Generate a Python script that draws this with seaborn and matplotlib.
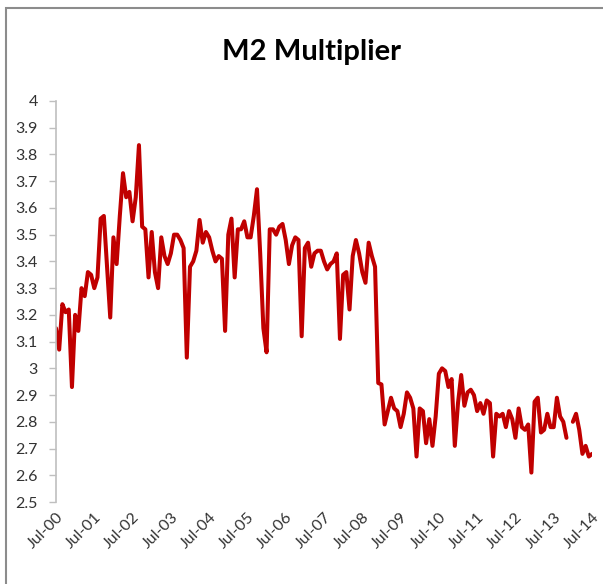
import numpy as np
import pandas as pd
import matplotlib
matplotlib.use("Agg")
import matplotlib.pyplot as plt
import seaborn as sns
from matplotlib.patches import Rectangle

# ---- data (monthly, Jul-2000 .. Jul-2014) ----
m2_multiplier = [
    3.15, 3.07, 3.24, 3.21, 3.22, 2.93, 3.20, 3.14, 3.30, 3.27, 3.36, 3.35,
    3.30, 3.34, 3.56, 3.57, 3.38, 3.19, 3.49, 3.39, 3.57, 3.73, 3.64, 3.66,
    3.55, 3.64, 3.835, 3.53, 3.52, 3.34, 3.51, 3.36, 3.30, 3.49, 3.42, 3.39,
    3.43, 3.50, 3.50, 3.48, 3.45, 3.04, 3.38, 3.40, 3.44, 3.555, 3.47, 3.51,
    3.49, 3.44, 3.40, 3.42, 3.41, 3.14, 3.50, 3.56, 3.34, 3.52, 3.52, 3.55,
    3.49, 3.49, 3.57, 3.67, 3.43, 3.15, 3.06, 3.52, 3.52, 3.50, 3.53, 3.54,
    3.48, 3.39, 3.46, 3.49, 3.48, 3.12, 3.45, 3.47, 3.38, 3.43, 3.44, 3.44,
    3.40, 3.37, 3.39, 3.40, 3.43, 3.11, 3.35, 3.36, 3.22, 3.42, 3.48, 3.43,
    3.36, 3.32, 3.47, 3.42, 3.38, 2.945, 2.94, 2.79, 2.84, 2.89, 2.85, 2.84,
    2.78, 2.83, 2.91, 2.89, 2.85, 2.67, 2.85, 2.84, 2.72, 2.81, 2.71, 2.82,
    2.98, 3.00, 2.99, 2.93, 2.96, 2.71, 2.87, 2.975, 2.86, 2.91, 2.92, 2.90,
    2.84, 2.87, 2.83, 2.88, 2.87, 2.67, 2.83, 2.82, 2.83, 2.78, 2.84, 2.81,
    2.74, 2.85, 2.78, 2.77, 2.79, 2.61, 2.875, 2.89, 2.76, 2.77, 2.83, 2.78,
    2.78, 2.89, 2.82, 2.80, 2.74, np.nan, 2.80, 2.83, 2.77, 2.68, 2.71, 2.67,
    2.68,
]
x_tick_labels = ["Jul-00", "Jul-01", "Jul-02", "Jul-03", "Jul-04", "Jul-05",
                 "Jul-06", "Jul-07", "Jul-08", "Jul-09", "Jul-10", "Jul-11",
                 "Jul-12", "Jul-13", "Jul-14"]
y_ticks = [2.5, 2.6, 2.7, 2.8, 2.9, 3.0, 3.1, 3.2, 3.3, 3.4, 3.5, 3.6, 3.7, 3.8, 3.9, 4.0]
y_tick_labels = ["2.5", "2.6", "2.7", "2.8", "2.9", "3", "3.1", "3.2", "3.3",
                 "3.4", "3.5", "3.6", "3.7", "3.8", "3.9", "4"]
title = "M2 Multiplier"

# ---- build frame ----
month = np.arange(len(m2_multiplier))
vals = np.array(m2_multiplier, dtype=float)
seg = np.cumsum(np.isnan(vals))
df = pd.DataFrame({"month": month, "value": vals, "seg": seg}).dropna()

sns.set_theme(style="white")
plt.rcParams["font.family"] = ["Lato", "DejaVu Sans"]

W, H = 603, 584
fig = plt.figure(figsize=(W / 100, H / 100), dpi=100)
fig.patch.set_facecolor("white")

# outer chart frame (Excel chart area border)
fig.add_artist(Rectangle((6 / W, -0.05), 1.2, 1 - 8 / H + 0.05,
                         transform=fig.transFigure, fill=False,
                         edgecolor="#8c8c8c", linewidth=1.5))

left, right, top, bottom = 56, 592, 101, 502
ax = fig.add_axes([left / W, 1 - bottom / H, (right - left) / W, (bottom - top) / H])

sns.lineplot(data=df, x="month", y="value", units="seg", estimator=None,
             color="#C00000", linewidth=2.9, ax=ax, legend=False)

ax.set_xlim(0, len(m2_multiplier) - 1)
ax.set_ylim(2.5, 4.0)
ax.set_yticks(y_ticks)
ax.set_yticklabels(y_tick_labels, fontsize=11.5, color="#333333")
ax.set_xticks(np.arange(len(x_tick_labels)) * 12)
ax.set_xticklabels(x_tick_labels, rotation=45, ha="right",
                   rotation_mode="anchor", fontsize=11.5, color="#333333")
ax.tick_params(axis="y", which="major", direction="out", length=5,
               width=1, color="#bfbfbf", pad=8, left=True)
ax.tick_params(axis="x", which="major", length=0, pad=6)
ax.set_xlabel("")
ax.set_ylabel("")

for s in ["top", "right", "bottom"]:
    ax.spines[s].set_visible(False)
ax.spines["left"].set_color("#bfbfbf")
ax.spines["left"].set_linewidth(1.2)

fig.text(311 / W, 1 - 52 / H, title, ha="center", va="center",
         fontsize=21, fontweight="bold", color="black")

fig.savefig("out.png", dpi=100)
